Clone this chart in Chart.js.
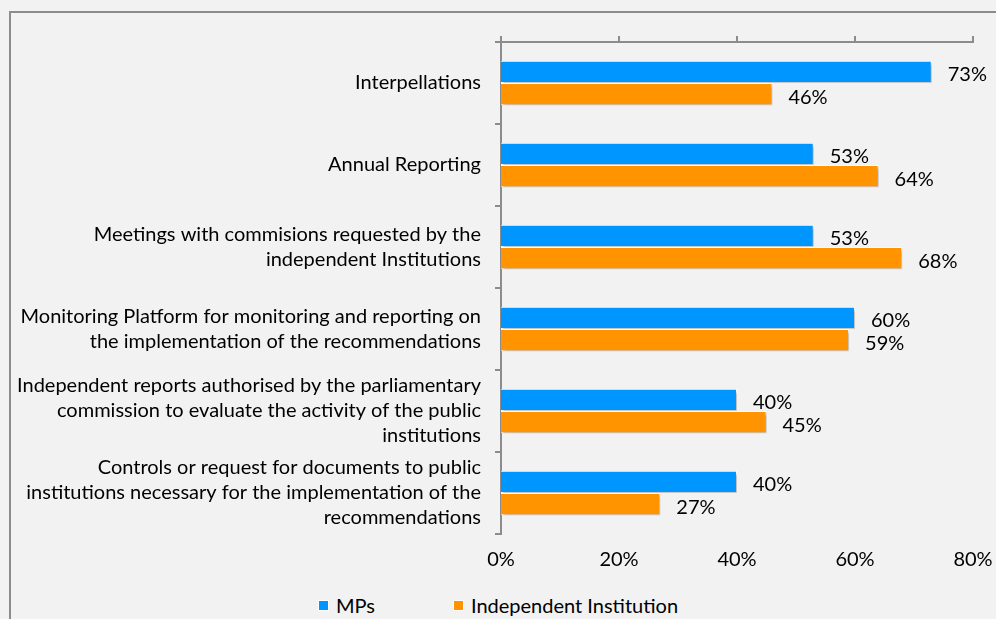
<!DOCTYPE html>
<html>
<head>
<meta charset="utf-8">
<script src="https://cdn.jsdelivr.net/npm/chart.js@4"></script>
<style>
  html, body { margin: 0; padding: 0; background: #f2f2f2; overflow: hidden; }
  #frame { position: absolute; left: 9px; top: 11px; width: 1000px; height: 620px;
           border-left: 2px solid #8c8c8c; border-top: 2px solid #8c8c8c; }
  #wrap { position: absolute; left: 0; top: 0; width: 996px; height: 578px; }
  #legend { position: absolute; left: 0; top: 593px; width: 996px; text-align: center;
            font-family: Lato, sans-serif; font-size: 20px; color: #000; white-space: nowrap; }
  #legend span.item { display: inline-block; margin: 0 39px; }
  #legend span.box { display: inline-block; width: 9px; height: 9px; margin-right: 7px;
                     vertical-align: 2px; border: 1px solid #fff; }
</style>
</head>
<body>
<div id="frame"></div>
<div id="wrap"><canvas id="barChart"></canvas></div>
<div id="legend"></div>
<script>
var categories = [
    ['Interpellations'],
    ['Annual Reporting'],
    ['Meetings with commisions requested by the', 'independent Institutions'],
    ['Monitoring Platform for monitoring and reporting on', 'the implementation of the recommendations'],
    ['Independent reports authorised by the parliamentary', 'commission to evaluate the activity of the public', 'institutions'],
    ['Controls or request for documents to public', 'institutions necessary for the implementation of the', 'recommendations']
];
var mpsValues = [73, 53, 53, 60, 40, 40];
var institutionValues = [46, 64, 68, 59, 45, 27];
var xTicks = [0, 20, 40, 60, 80];

var FONT = 'Lato';
var FSIZE = 20;

// draws the % value right of every bar
var valueLabels = {
    id: 'valueLabels',
    afterDatasetsDraw: function (chart) {
        var ctx = chart.ctx;
        ctx.save();
        ctx.font = FSIZE + 'px ' + FONT;
        ctx.fillStyle = '#000';
        ctx.textAlign = 'left';
        ctx.textBaseline = 'middle';
        chart.data.datasets.forEach(function (ds, i) {
            chart.getDatasetMeta(i).data.forEach(function (bar, j) {
                ctx.fillText(ds.data[j] + '%', bar.x + 16, bar.y + 3);
            });
        });
        ctx.restore();
    }
};

// soft shadow under the bars
var barShadow = {
    id: 'barShadow',
    beforeDatasetsDraw: function (chart) {
        var ctx = chart.ctx;
        ctx.save();
        ctx.shadowColor = 'rgba(0,0,0,0.3)';
        ctx.shadowBlur = 3;
        ctx.shadowOffsetX = 2;
        ctx.shadowOffsetY = 2;
    },
    afterDatasetsDraw: function (chart) {
        chart.ctx.restore();
    }
};

var ctx = document.getElementById('barChart').getContext('2d');
var myChart = new Chart(ctx, {
    type: 'bar',
    data: {
        labels: categories,
        datasets: [
            {
                label: 'MPs',
                data: mpsValues,
                backgroundColor: '#0096ff',
                borderColor: '#ffffff',
                borderWidth: 1
            },
            {
                label: 'Independent Institution',
                data: institutionValues,
                backgroundColor: '#ff9400',
                borderColor: '#ffffff',
                borderWidth: 1
            }
        ]
    },
    options: {
        indexAxis: 'y',
        responsive: true,
        maintainAspectRatio: false,
        animation: false,
        barPercentage: 1,
        categoryPercentage: 0.54,
        layout: { padding: { top: 36, right: 23, left: 0, bottom: 0 } },
        scales: {
            x: {
                min: 0,
                max: 80,
                afterBuildTicks: function (axis) {
                    axis.ticks = xTicks.map(function (v) { return { value: v }; });
                },
                afterFit: function (axis) { axis.paddingLeft = 0; axis.paddingRight = 0; },
                ticks: {
                    callback: function (v) { return v + '%'; },
                    color: '#000',
                    font: { family: FONT, size: FSIZE },
                    padding: 6,
                    maxRotation: 0
                },
                grid: { display: false },
                border: { display: false }
            },
            xTop: {
                position: 'top',
                min: 0,
                max: 80,
                afterBuildTicks: function (axis) {
                    axis.ticks = xTicks.map(function (v) { return { value: v }; });
                },
                ticks: { display: false },
                grid: { drawOnChartArea: false, tickLength: 6, color: '#8c8c8c', lineWidth: 2 },
                border: { color: '#8c8c8c', width: 2 }
            },
            y: {
                afterFit: function (axis) {
                    axis.width = 501;
                    axis.paddingTop = 0;
                    axis.paddingBottom = 0;
                },
                ticks: {
                    autoSkip: false,
                    color: '#000',
                    font: { family: FONT, size: FSIZE, lineHeight: 1.25 },
                    padding: 14
                },
                grid: { offset: true, drawOnChartArea: false, tickLength: 6, color: '#8c8c8c', lineWidth: 2 },
                border: { color: '#8c8c8c', width: 2 }
            }
        },
        plugins: {
            legend: { display: false },
            tooltip: { enabled: false }
        }
    },
    plugins: [barShadow, valueLabels]
});

// legend below the chart, built from the datasets
document.getElementById('legend').innerHTML = myChart.data.datasets.map(function (ds) {
    return '<span class="item"><span class="box" style="background:' + ds.backgroundColor + '"></span>' + ds.label + '</span>';
}).join('');
</script>
</body>
</html>
